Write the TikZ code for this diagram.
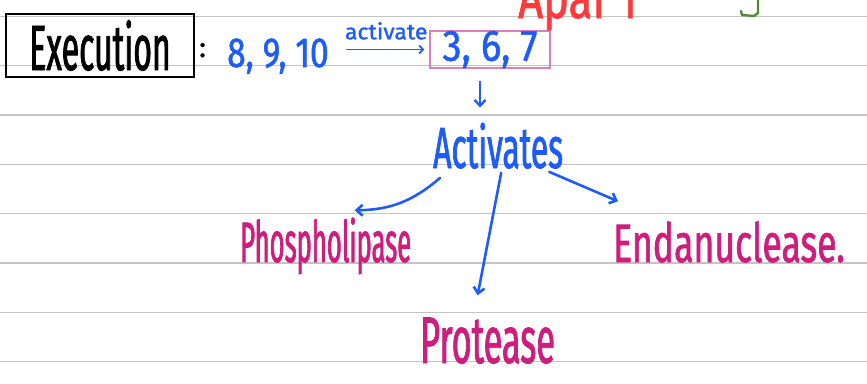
\documentclass[tikz,border=0pt]{standalone}
\usepackage{fontspec}
\setmainfont{Fira Sans}
\usetikzlibrary{arrows.meta,positioning,calc}

\definecolor{inkblue}{RGB}{30,92,250}
\definecolor{inkpink}{RGB}{205,30,125}
\definecolor{boxpink}{RGB}{218,128,190}
\definecolor{apafred}{RGB}{255,58,58}
\definecolor{bracketgreen}{RGB}{82,140,50}
\definecolor{rulegray}{RGB}{196,196,196}

\newcommand\hand[2]{\fontspec[FakeStretch=#1,FakeBold=1.2]{Fira Sans}\fontsize{#2pt}{#2pt}\selectfont}

\begin{document}
\begin{tikzpicture}[x=1pt,y=1pt,
rule/.style={draw=rulegray,line width=1.3pt},
word/.style={inner sep=0pt,anchor=base west},
arr/.style={-{Straight Barb[length=6pt,width=11pt]},draw=inkblue,line width=2.6pt,line cap=round}
]
\useasboundingbox (0,0) rectangle (867,-383);
\foreach \y in {16.5,65.8,115.1,164.4,213.7,263,312.3,361.6}
  \draw[rule] (0,-\y) -- (867,-\y);

\node[draw=black,line width=2.6pt,minimum width=188pt,minimum height=63pt,inner sep=0pt,font=\hand{0.5}{64}] (exec) at (100,-45.5) {Execution};
\node[word,font=\hand{1}{28}] (colon) at (199,-57) {:};
\node[word,text=inkblue,font=\hand{0.8}{42}] (early) at (227,-67) {8, 9, 10};
\node[draw=boxpink,line width=1.3pt,minimum width=120pt,minimum height=35pt,inner sep=0pt,text=inkblue,font=\hand{0.87}{44}] (exe) at (490,-49.5) {3, 6, 7};
\node[word,text=apafred,font=\hand{0.75}{58}] (apaf) at (518,-18) {Apaf 1};
\draw[draw=bracketgreen,line width=2.4pt,line cap=round,line join=round] (758,3) -- (758,-13) -- (754,-16) -- (742,-15) -- (741,-11);

\node[word,text=inkblue,font=\hand{0.55}{58}] (act) at (433,-168) {Activates};
\node[word,text=inkpink,font=\hand{0.45}{57}] (pho) at (240,-262) {Phospholipase};
\node[word,text=inkpink,font=\hand{0.66}{54}] (endo) at (613,-262) {Endanuclease.};
\node[word,text=inkpink,font=\hand{0.52}{66}] (pro) at (420,-363) {Protease};

\draw[arr,line width=1.8pt,-{Straight Barb[length=4pt,width=8pt]},shorten <=18pt,shorten >=5pt] (early.east |- exe.west) -- node[pos=0.57,above=9pt,inner sep=0pt,font=\hand{1.05}{22},text=inkblue] (actlabel) {activate} (exe.west);
\draw[arr,line width=2.3pt,shorten <=13pt,shorten >=15pt] ([xshift=-10pt]exe.south) -- ([xshift=-10pt]exe.south |- act.north);
\draw[arr] ([shift={(7pt,-9pt)}]act.south west) to[bend left=20] ([shift={(29pt,7pt)}]pho.north);
\draw[arr] ([shift={(3pt,-4pt)}]act.south) -- ([shift={(-10pt,22pt)}]pro.north);
\draw[arr] ([shift={(-14pt,-3pt)}]act.south east) -- ([shift={(5pt,20pt)}]endo.north west);
\end{tikzpicture}
\end{document}
